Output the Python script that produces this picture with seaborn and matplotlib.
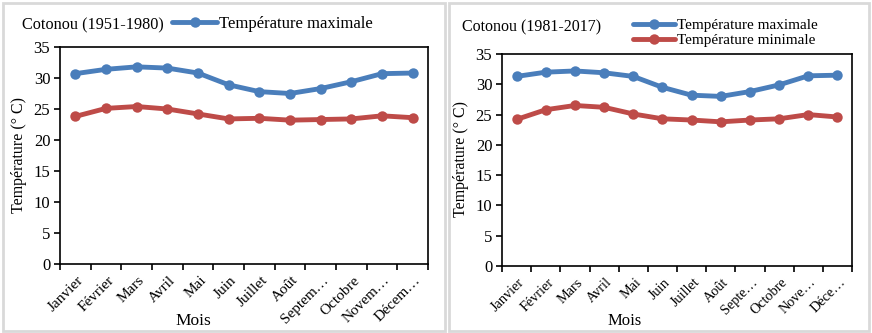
import matplotlib
matplotlib.use("Agg")
import matplotlib.pyplot as plt
from matplotlib.patches import Rectangle
from matplotlib.lines import Line2D
import matplotlib.transforms as mtransforms
import numpy as np
import pandas as pd
import seaborn as sns

# Monthly mean temperatures at Cotonou (°C)
mois = ["Janvier", "Février", "Mars", "Avril", "Mai", "Juin", "Juillet",
        "Août", "Septembre", "Octobre", "Novembre", "Décembre"]
labels_1951 = ["Janvier", "Février", "Mars", "Avril", "Mai", "Juin", "Juillet",
               "Août", "Septem…", "Octobre", "Novem…", "Décem…"]
labels_1981 = ["Janvier", "Février", "Mars", "Avril", "Mai", "Juin", "Juillet",
               "Août", "Septe…", "Octobre", "Nove…", "Déce…"]

tmax_1951 = [30.7, 31.4, 31.8, 31.6, 30.8, 28.9, 27.8, 27.5, 28.3, 29.4, 30.7, 30.8]
tmin_1951 = [23.8, 25.1, 25.4, 25.0, 24.2, 23.4, 23.5, 23.2, 23.3, 23.4, 23.9, 23.6]
tmax_1981 = [31.3, 32.0, 32.2, 31.9, 31.3, 29.5, 28.2, 28.0, 28.8, 29.9, 31.4, 31.5]
tmin_1981 = [24.2, 25.8, 26.5, 26.2, 25.1, 24.3, 24.1, 23.8, 24.1, 24.3, 25.0, 24.6]

series_names = ["Température maximale", "Température minimale"]
colors = {"Température maximale": "#4A7EBB", "Température minimale": "#BE4B48"}

sns.set_theme(style="white")
plt.rcParams["font.family"] = ["Liberation Serif", "DejaVu Serif"]
plt.rcParams["text.color"] = "black"
plt.rcParams["axes.labelcolor"] = "black"
plt.rcParams["xtick.color"] = "black"
plt.rcParams["ytick.color"] = "black"

W, H = 872, 333
fig = plt.figure(figsize=(W / 100, H / 100), dpi=100)

LW = 3.5
MS = 7.5


def frac(x0, y_top, x1, y_bot):
    return [x0 / W, 1 - y_bot / H, (x1 - x0) / W, (y_bot - y_top) / H]


# panel frames
for (x0, x1) in [(3, 445), (449, 869)]:
    fig.patches.append(Rectangle((x0 / W, 2 / H), (x1 - x0) / W, (H - 5) / H,
                                 transform=fig.transFigure, fill=False,
                                 edgecolor="#D9D9D9", linewidth=2.0, zorder=0))


def draw_panel(rect, tmax, tmin, ticklabels, xfont):
    ax = fig.add_axes(rect)
    df = pd.DataFrame({
        "pos": list(range(len(mois))) * 2,
        "mois": mois * 2,
        "temp": tmax + tmin,
        "serie": [series_names[0]] * len(mois) + [series_names[1]] * len(mois),
    })
    sns.lineplot(data=df, x="pos", y="temp", hue="serie", palette=colors,
                 marker="o", markersize=MS, markeredgewidth=0, linewidth=LW,
                 legend=False, ax=ax)
    ax.set_xlim(-0.5, len(mois) - 0.5)
    ax.set_ylim(0, 35)
    ax.set_yticks(np.arange(0, 36, 5))
    ax.set_xticks(np.arange(len(mois)))
    ax.set_xticklabels(ticklabels, rotation=45, ha="right",
                       rotation_mode="anchor", fontsize=xfont)
    ax.set_xticks(np.arange(-0.5, len(mois)), minor=True)
    ax.tick_params(axis="x", which="major", length=0, pad=7)
    ax.tick_params(axis="x", which="minor", length=4, width=1.2,
                   direction="out", bottom=True)
    ax.tick_params(axis="y", length=4, width=1.2, direction="out", left=True,
                   labelsize=12, pad=3)
    offset = mtransforms.ScaledTranslation(1 / 72, 0, fig.dpi_scale_trans)
    for lab in ax.get_xticklabels():
        lab.set_transform(lab.get_transform() + offset)
    for sp in ax.spines.values():
        sp.set_visible(True)
        sp.set_color("black")
        sp.set_linewidth(1.2)
    ax.set_xlabel("")
    ax.set_ylabel("")
    return ax


ax1 = draw_panel(frac(60, 47, 428, 264), tmax_1951, tmin_1951, labels_1951, 11)
ax2 = draw_panel(frac(502, 54, 852, 266), tmax_1981, tmin_1981, labels_1981, 10.3)

# titles, axis titles
fig.text(22 / W, 1 - 25 / H, "Cotonou (1951-1980)", fontsize=11.7,
         ha="left", va="center")
fig.text(462 / W, 1 - 27 / H, "Cotonou (1981-2017)", fontsize=11.5,
         ha="left", va="center")
fig.text(19 / W, 1 - 155 / H, "Température (° C)", fontsize=11.4,
         rotation=90, ha="center", va="center")
fig.text(461 / W, 1 - 159 / H, "Température (° C)", fontsize=11.4,
         rotation=90, ha="center", va="center")
fig.text(193 / W, 1 - 321 / H, "Mois", fontsize=12.5, ha="center", va="center")
fig.text(625 / W, 1 - 321 / H, "Mois", fontsize=12, ha="center", va="center")


def handle(name):
    return Line2D([], [], color=colors[name], linewidth=LW, marker="o",
                  markersize=MS, markeredgewidth=0)


leg_kw = dict(frameon=False, loc="center left",
              handletextpad=0.12, borderpad=0,
              borderaxespad=0, labelspacing=0.08,
              bbox_transform=fig.transFigure)
ax1.legend([handle(series_names[0])], [series_names[0]], fontsize=12,
           handlelength=2.7, bbox_to_anchor=(172 / W, 1 - 24 / H), **leg_kw)
ax2.legend([handle(n) for n in series_names], series_names, fontsize=11,
           handlelength=2.75, bbox_to_anchor=(633 / W, 1 - 33 / H), **leg_kw)

fig.savefig("out.png", dpi=100)
